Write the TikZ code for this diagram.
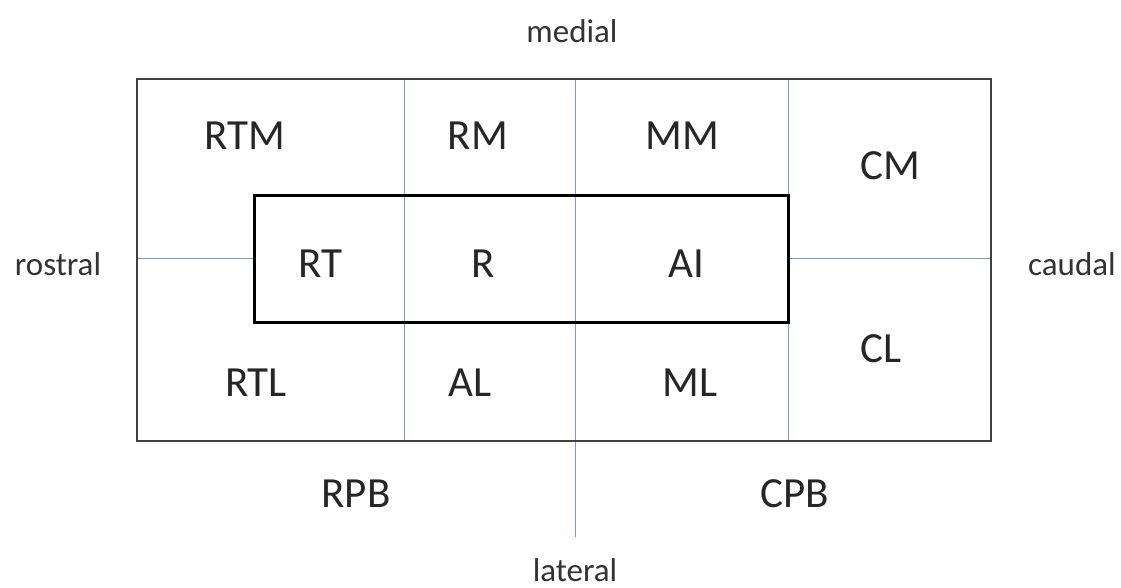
\documentclass[tikz,border=0pt]{standalone}
\usepackage{fontspec}
\setmainfont{Carlito}
\definecolor{gridblue}{RGB}{125,155,188}
\begin{document}
\begin{tikzpicture}[x=1pt,y=-1pt,
  big/.style={font=\fontsize{43}{43}\selectfont, text=black!85, inner sep=0pt},
  dir/.style={font=\fontsize{33}{33}\selectfont, text=black!80, inner sep=0pt},
  bluel/.style={draw=gridblue, line width=1pt},
  outerbox/.style={draw=black!75, line width=1.2pt},
  innerbox/.style={draw=black, line width=3pt}]
\useasboundingbox (0,0) rectangle (1121,588);
\coordinate (o1) at (137,79);
\coordinate (o2) at (991,441);
\coordinate (v1t) at (404,79); \coordinate (v1b) at (404,441);
\coordinate (v2t) at (575,79); \coordinate (v2b) at (575,537);
\coordinate (v3t) at (788,79); \coordinate (v3b) at (788,441);
\coordinate (hl1) at (137,258); \coordinate (hl2) at (254,258);
\coordinate (hr1) at (788,258); \coordinate (hr2) at (991,258);
\draw[bluel] (v1t) -- (v1b);
\draw[bluel] (v2t) -- (v2b);
\draw[bluel] (v3t) -- (v3b);
\draw[bluel] (hl1) -- (hl2);
\draw[bluel] (hr1) -- (hr2);
\draw[outerbox] (o1) rectangle (o2);
\draw[innerbox] (254,196) rectangle (788,322);
\node[big] (rtm) at (245,136) {RTM};
\node[big] (rm) at (478,136) {RM};
\node[big] (mm) at (682,136) {MM};
\node[big] (cm) at (890,166) {CM};
\node[big] (rt) at (320,264) {RT};
\node[big] (r) at (483,264) {R};
\node[big] (ai) at (686,264) {AI};
\node[big] (cl) at (881,349) {CL};
\node[big] (rtl) at (256,383) {RTL};
\node[big] (al) at (470,383) {AL};
\node[big] (ml) at (690,383) {ML};
\node[big] (rpb) at (356,494) {RPB};
\node[big] (cpb) at (795,494) {CPB};
\node[dir] (medial) at (572,31) {medial};
\node[dir] (lateral) at (575,570) {lateral};
\node[dir] (rostral) at (58,264) {rostral};
\node[dir] (caudal) at (1072,264) {caudal};
\end{tikzpicture}
\end{document}
